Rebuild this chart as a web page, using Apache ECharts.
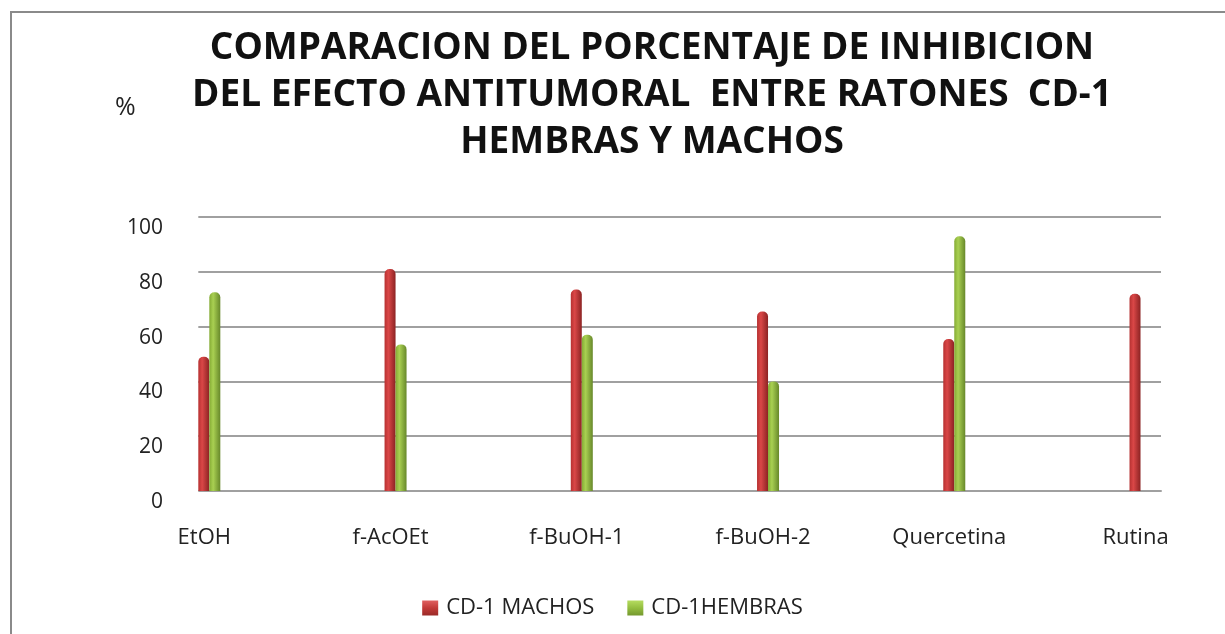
<!DOCTYPE html>
<html>
<head>
<meta charset="utf-8">
<script src="https://cdn.jsdelivr.net/npm/echarts@6/dist/echarts.min.js"></script>
<style>
  html, body { margin: 0; padding: 0; background: #fff; }
  #chart { width: 1225px; height: 634px; }
</style>
</head>
<body>
<div id="chart"></div>
<script>
// Categories and percentages of tumour inhibition
const categories = ['EtOH', 'f-AcOEt', 'f-BuOH-1', 'f-BuOH-2', 'Quercetina', 'Rutina'];
const machos = [49, 81, 73.5, 65.5, 55.5, 72];
const hembras = [72.5, 53.5, 57, 40, 93, 0];
const yTicks = [0, 20, 40, 60, 80, 100];
const seriesNames = ['CD-1 MACHOS', 'CD-1HEMBRAS'];

const FONT = '"Open Sans", Lato, sans-serif';

function cylinder(dark, light, darker) {
  return new echarts.graphic.LinearGradient(0, 0, 1, 0, [
    { offset: 0, color: dark },
    { offset: 0.35, color: light },
    { offset: 1, color: darker }
  ]);
}
const redFill = cylinder('#b63131', '#da4747', '#8c2323');
const greenFill = cylinder('#84ab34', '#a9d052', '#67882a');

function pyramid(top, mid, bottom) {
  return new echarts.graphic.LinearGradient(0, 0, 0, 1, [
    { offset: 0, color: top },
    { offset: 0.5, color: mid },
    { offset: 1, color: bottom }
  ]);
}

const chart = echarts.init(document.getElementById('chart'), null, { renderer: 'canvas' });

chart.setOption({
  backgroundColor: '#ffffff',
  animation: false,
  graphic: [
    {
      type: 'rect',
      shape: { x: 11, y: 12, width: 1400, height: 800 },
      style: { fill: 'none', stroke: '#8a8a8a', lineWidth: 2 },
      silent: true
    }
  ],
  title: [
    {
      text: 'COMPARACION DEL PORCENTAJE DE INHIBICION\nDEL EFECTO ANTITUMORAL  ENTRE RATONES  CD-1\nHEMBRAS Y MACHOS',
      left: 647,
      top: 20,
      textAlign: 'center',
      textStyle: {
        fontFamily: FONT,
        fontWeight: 'bold',
        fontSize: 37,
        lineHeight: 47,
        color: '#111'
      }
    },
    {
      text: '%',
      left: 110,
      top: 90,
      textStyle: { fontFamily: FONT, fontWeight: 'normal', fontSize: 25, color: '#222' }
    }
  ],
  legend: {
    data: [
      { name: seriesNames[0], itemStyle: { color: pyramid('#e06060', '#c23a38', '#9a2a28') } },
      { name: seriesNames[1], itemStyle: { color: pyramid('#b5dc60', '#94be40', '#74982e') } }
    ],
    left: 'center',
    top: 592,
    icon: 'rect',
    itemWidth: 16,
    itemHeight: 15,
    itemGap: 33,
    textStyle: { fontFamily: FONT, fontSize: 22, color: '#222', padding: [0, 0, 0, 3] }
  },
  grid: { left: 200, right: 64, top: 217, bottom: 143 },
  xAxis: {
    type: 'value',
    min: -0.05,
    max: 5.11,
    axisLine: { show: true, onZero: false, lineStyle: { color: '#a0a0a0', width: 2 } },
    axisTick: { show: false },
    splitLine: { show: false },
    axisLabel: {
      customValues: [0, 1, 2, 3, 4, 5],
      margin: 36,
      formatter: v => categories[Math.round(v)] || '',
      fontFamily: FONT,
      fontSize: 22,
      color: '#222',
      padding: [0, 10, 0, 0]
    }
  },
  yAxis: {
    type: 'value',
    min: 0,
    max: 100,
    interval: 20,
    axisLine: { show: false },
    axisTick: { show: true, length: 11, lineStyle: { color: '#a0a0a0', width: 2 } },
    splitLine: { show: true, lineStyle: { color: '#a0a0a0', width: 2 } },
    axisLabel: {
      margin: 37,
      formatter: v => (yTicks.indexOf(v) >= 0 ? '{v|' + v + '}' : ''),
      rich: {
        v: { fontFamily: FONT, fontSize: 21, color: '#222', padding: [22, 0, 0, 0] }
      }
    }
  },
  series: [
    {
      name: seriesNames[0],
      type: 'bar',
      barWidth: 11,
      barGap: '0%',
      data: machos.map((v, i) => [i, v]),
      itemStyle: { color: redFill, borderRadius: [5, 5, 0, 0] }
    },
    {
      name: seriesNames[1],
      type: 'bar',
      barWidth: 11,
      barGap: '0%',
      data: hembras.map((v, i) => [i, v]),
      itemStyle: { color: greenFill, borderRadius: [5, 5, 0, 0] }
    }
  ]
});
</script>
</body>
</html>
